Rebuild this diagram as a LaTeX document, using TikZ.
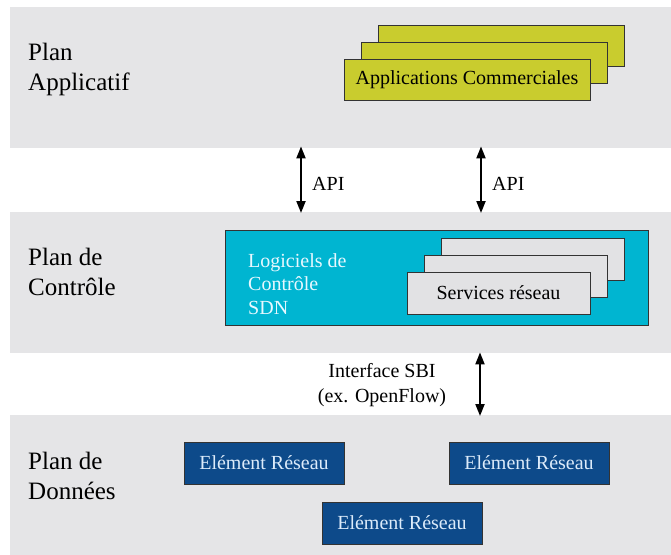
\documentclass[tikz,border=0pt]{standalone}
\usepackage{fontspec}
\setmainfont{Liberation Serif}
\usepackage{xcolor}
\definecolor{bandgray}{HTML}{E5E5E7}
\definecolor{darkgray}{HTML}{333333}
\definecolor{appyellow}{HTML}{C9CC2E}
\definecolor{ctrlcyan}{HTML}{00B5D1}
\definecolor{ctrltext}{HTML}{E8F8FF}
\definecolor{srvgray}{HTML}{E2E2E4}
\definecolor{elemblue}{HTML}{0D4A8A}
\definecolor{elemtext}{HTML}{DCEBFA}
\usetikzlibrary{positioning,arrows.meta}

\begin{document}
\begin{tikzpicture}[x=1pt, y=-1pt, node distance = 17pt and 17pt,
	band/.style={rectangle, fill = bandgray, draw = none, anchor = north west,
					minimum width = 661pt, minimum height = 141pt, inner sep = 0pt},
	planlabel/.style={align = left, anchor = base west, inner sep = 0pt,
					font = \fontsize{25}{30}\selectfont},
	appbox/.style={rectangle, minimum width = 246pt, minimum height = 41pt, inner sep = 0pt,
					draw = darkgray, line width = 1pt, fill = appyellow,
					font = \fontsize{20}{24}\selectfont},
	srvbox/.style={rectangle, minimum width = 183pt, minimum height = 42pt, inner sep = 0pt,
					draw = darkgray, line width = 1pt, fill = srvgray,
					font = \fontsize{20}{24}\selectfont},
	elembox/.style={rectangle, minimum width = 160pt, minimum height = 42pt, inner sep = 0pt,
					draw = darkgray, line width = 1pt, fill = elemblue, text = elemtext,
					font = \fontsize{20}{24}\selectfont},
	link/.style={{Triangle[length=12pt,width=9pt]}-{Triangle[length=12pt,width=9pt]}, line width = 2pt},
	linklabel/.style={inner sep = 0pt, font = \fontsize{20}{25}\selectfont}]
	\useasboundingbox (0,0) rectangle (671,554);
	\fill[white] (0,0) rectangle (671,554);
	% plans
	\node (bandA) [band] at (10,7) {};
	\node (bandC) [band] at (10,212) {};
	\node (bandD) [band] at (10,415) {};
	\node (labA) [planlabel] at (28,90) {Plan\\Applicatif};
	\node (labC) [planlabel] at (28,295) {Plan de\\Contrôle};
	\node (labD) [planlabel] at (28,499) {Plan de\\Données};
	% applications
	\node (app3) [appbox] at (501,46) {};
	\node (app2) [appbox, below left=17pt and 17pt of app3.center, anchor=center] {};
	\node (app1) [appbox, below left=17pt and 17pt of app2.center, anchor=center] {Applications Commerciales};
	% controleur
	\node (ctrl) [rectangle, draw = darkgray, line width = 1pt, fill = ctrlcyan, anchor = north west,
					minimum width = 423pt, minimum height = 95pt, inner sep = 0pt] at (225,230) {};
	\node (ctrltxt) [planlabel, text = ctrltext, font = \fontsize{20}{23.5}\selectfont]
					at (248,314) {Logiciels de\\Contrôle\\SDN};
	\node (srv3) [srvbox] at (532.5,259) {};
	\node (srv2) [srvbox, below left=17pt and 17pt of srv3.center, anchor=center] {};
	\node (srv1) [srvbox, below left=17pt and 17pt of srv2.center, anchor=center] {Services réseau};
	% elements
	\node (elem1) [elembox] at (264,463) {Elément Réseau};
	\node (elem2) [elembox] at (529,463) {Elément Réseau};
	\node (elem3) [elembox] at (402,523) {Elément Réseau};
	% interfaces
	\coordinate (apiL) at (301,0);
	\coordinate (apiR) at (481,0);
	\coordinate (sbi) at (480,0);
	\draw[link] ([yshift=2pt]bandA.south -| apiL) -- ([yshift=-1pt]bandC.north -| apiL);
	\draw[link] ([yshift=2pt]bandA.south -| apiR) -- ([yshift=-1pt]bandC.north -| apiR);
	\draw[link] ([yshift=1pt]bandC.south -| sbi) -- ([yshift=-1pt]bandD.north -| sbi);
	\node (apiLtxt) [linklabel, anchor = base west] at (312,190) {API};
	\node (apiRtxt) [linklabel, anchor = base west] at (492,190) {API};
	\node (sbitxt) [linklabel, align = center, anchor = base] at (382,402) {Interface SBI\\(ex. OpenFlow)};
\end{tikzpicture}
\end{document}
